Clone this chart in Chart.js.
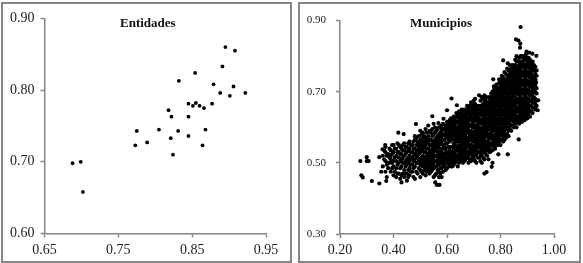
<!DOCTYPE html>
<html>
<head>
<meta charset="utf-8">
<script src="https://cdn.jsdelivr.net/npm/chart.js@4"></script>
<style>
  html, body { margin: 0; padding: 0; background: #fff; }
  body { width: 583px; height: 263px; position: relative; overflow: hidden; }
  .frame { position: absolute; top: 2px; height: 257px; border: 2px solid #858585; background: #fff; }
  .frame canvas { display: block; }
  .name { position: absolute; top: 11px; font: bold 13px "Liberation Serif", serif; color: #111; }
</style>
</head>
<body>
<div class="frame" style="left:1px;width:287px"><canvas id="entidades" width="287" height="257"></canvas><div class="name" style="left:117px">Entidades</div></div>
<div class="frame" style="left:298px;width:279px"><canvas id="municipios" width="279" height="257"></canvas><div class="name" style="left:110px">Municipios</div></div>
<script>
// Entidades: [x, y]
const entidadesPuntos = [
  [.688,.698],[.699,.700],[.702,.658],[.773,.723],[.775,.743],[.789,.727],[.805,.745],[.818,.772],
  [.821,.733],[.822,.763],[.824,.710],[.831,.743],[.832,.813],[.845,.781],[.845,.763],[.845,.736],
  [.851,.778],[.854,.824],[.855,.782],[.860,.778],[.864,.723],[.866,.775],[.868,.745],[.877,.781],
  [.879,.808],[.888,.796],[.891,.833],[.895,.860],[.901,.792],[.906,.805],[.908,.855],[.922,.796]
];

// Municipios: puntos sueltos
const municipiosSueltos = [
  [.276,.505],[.280,.465],[.285,.459],[.300,.516],[.300,.505],[.307,.505],[.319,.449],[.347,.442],
  [.347,.516],[.373,.449],[.354,.475],[.359,.538],[.369,.550],[.418,.585],[.438,.581],[.484,.609],
  [.545,.631],[.568,.612],[.587,.624],[.600,.648],[.617,.681],[.637,.662],[.556,.445],[.562,.438],
  [.572,.438],[.792,.524],[.827,.524],[.868,.566],[.740,.470],[.748,.474],[.767,.489],[.875,.882],
  [.858,.847],[.867,.844],[.874,.835],[.873,.824],[.897,.813],[.907,.810],[.919,.807],[.934,.801],
  [.810,.788],[.827,.780],[.773,.735],[.941,.676],[.939,.648],[.933,.727]
];

// Municipios: la nube, por columna de x
const municipiosX = [
  .36,.37,.38,.39,.40,.41,.42,.43,.44,.45,.46,.47,.48,.49,.50,.51,.52,.53,.54,.55,.56,.57,.58,.59,.60,
  .61,.62,.63,.64,.65,.66,.67,.68,.69,.70,.71,.72,.73,.74,.75,.76,.77,.78,.79,.80,.81,.82,.83,.84,.85,
  .86,.87,.88,.89,.90,.91,.92,.93
];
const municipiosY = [
  [.49,.52],
  [.475,.505,.53,.545],
  [.485,.50,.525],
  [.475,.51,.52,.535],
  [.465,.49,.505,.53,.55],
  [.46,.485,.505,.52,.54],
  [.47,.50,.515,.53,.55],
  [.445,.465,.49,.51,.525,.54],
  [.46,.48,.50,.52,.535,.555],
  [.45,.47,.495,.51,.53,.545],
  [.465,.485,.505,.52,.54,.56],
  [.475,.495,.515,.53,.55],
  [.455,.49,.51,.525,.54,.565,.575],
  [.47,.50,.515,.535,.55,.56],
  [.46,.48,.495,.51,.53,.545,.565,.59],
  [.47,.49,.505,.52,.54,.555,.57,.585],
  [.465,.485,.50,.515,.53,.55,.565,.595],
  [.48,.495,.51,.525,.54,.56,.575,.605],
  [.475,.49,.505,.52,.535,.55,.565,.585],
  [.46,.485,.50,.515,.53,.545,.56,.58,.61],
  [.47,.49,.505,.52,.54,.555,.57,.59],
  [.46,.475,.495,.51,.525,.55,.565,.58,.60],
  [.46,.485,.50,.515,.53,.56,.575,.59,.605],
  [.49,.505,.52,.545,.565,.58,.595],
  [.485,.50,.51,.525,.555,.57,.585,.60,.615],
  [.495,.51,.52,.535,.56,.575,.59,.605,.62],
  [.49,.505,.52,.53,.545,.57,.585,.60,.615],
  [.50,.515,.53,.55,.565,.58,.595,.61,.625],
  [.49,.51,.52,.535,.56,.575,.59,.60,.615,.63],
  [.505,.52,.53,.545,.56,.57,.585,.60,.61,.625,.64],
  [.50,.515,.53,.54,.555,.57,.58,.595,.61,.62,.635,.645],
  [.51,.525,.54,.55,.565,.58,.59,.605,.615,.63,.645],
  [.50,.52,.53,.545,.56,.57,.585,.60,.61,.625,.64,.655],
  [.505,.525,.54,.55,.565,.58,.59,.605,.62,.63,.645,.655,.67],
  [.51,.52,.535,.545,.56,.575,.585,.60,.615,.625,.64,.65,.66,.675],
  [.50,.525,.54,.555,.565,.58,.595,.605,.62,.63,.645,.655],
  [.515,.53,.55,.56,.575,.59,.60,.615,.625,.64,.65,.69],
  [.50,.52,.535,.545,.56,.57,.585,.595,.61,.62,.635,.645,.66,.685],
  [.51,.53,.54,.555,.57,.58,.595,.605,.62,.63,.645,.655,.67,.69],
  [.52,.535,.55,.56,.575,.59,.60,.615,.625,.64,.65,.665],
  [.53,.545,.555,.57,.58,.595,.605,.62,.63,.645,.655,.67,.68],
  [.50,.535,.55,.565,.575,.59,.60,.615,.625,.64,.65,.665,.675,.70],
  [.54,.555,.57,.58,.595,.605,.62,.63,.645,.655,.67,.68,.695,.705],
  [.55,.56,.575,.59,.60,.615,.625,.64,.65,.665,.675,.69,.70,.71],
  [.55,.565,.58,.595,.605,.62,.63,.645,.655,.67,.68,.695,.705,.72,.73],
  [.56,.575,.59,.60,.615,.625,.64,.65,.665,.675,.69,.70,.715,.725,.74],
  [.57,.58,.595,.605,.62,.63,.645,.655,.67,.68,.695,.705,.72,.73,.75],
  [.575,.59,.60,.615,.625,.64,.65,.665,.675,.69,.70,.715,.725,.74,.76],
  [.59,.605,.62,.63,.645,.655,.67,.68,.695,.705,.72,.73,.745,.755,.765],
  [.60,.615,.625,.64,.65,.665,.675,.69,.70,.715,.725,.74,.75,.765,.77],
  [.60,.62,.63,.645,.655,.67,.68,.695,.705,.72,.73,.745,.755,.77,.785,.80],
  [.61,.625,.64,.65,.665,.675,.69,.70,.715,.725,.74,.75,.765,.775,.795],
  [.615,.63,.645,.655,.67,.68,.695,.705,.72,.73,.745,.755,.77,.78,.80],
  [.62,.635,.65,.665,.675,.69,.70,.715,.725,.74,.75,.765,.775,.79,.80],
  [.625,.64,.655,.67,.68,.695,.705,.72,.73,.745,.755,.77,.78,.795],
  [.63,.645,.66,.675,.69,.70,.715,.725,.74,.75,.765,.775,.79],
  [.64,.655,.67,.68,.695,.71,.72,.735,.745,.76,.77,.785],
  [.65,.665,.68,.70,.72,.735,.75,.77]
];

// Municipios: columnas intermedias de la nube
const municipiosX2 = [
  .365,.375,.385,.395,.405,.415,.425,.435,.445,.455,.465,.475,.485,.495,.505,.515,.525,.535,.545,.555,
  .565,.575,.585,.595,.605,.615,.625,.635,.645,.655,.665,.675,.685,.695,.705,.715,.725,.735,.745,.755,
  .765,.775,.785,.795,.805,.815,.825,.835,.845,.855,.865,.875,.885,.895,.905,.915,.925,.935
];
const municipiosY2 = [
  [.51,.535],
  [.46,.495,.52],
  [.50,.515,.54],
  [.485,.50,.525,.55],
  [.475,.515,.54],
  [.47,.495,.53,.555],
  [.455,.485,.505,.525,.545],
  [.47,.50,.515,.535,.55],
  [.47,.49,.505,.525,.545],
  [.46,.48,.50,.515,.535,.555],
  [.475,.495,.51,.53,.55],
  [.46,.485,.505,.52,.54,.56],
  [.475,.50,.52,.53,.55,.57],
  [.485,.505,.525,.54,.555,.575],
  [.475,.50,.515,.535,.55,.56,.58],
  [.48,.495,.51,.53,.545,.56,.575],
  [.475,.49,.505,.52,.54,.555,.57,.585],
  [.47,.485,.50,.515,.53,.55,.565,.59],
  [.48,.495,.51,.525,.54,.555,.575,.595],
  [.465,.49,.505,.52,.535,.55,.565,.585,.60],
  [.48,.50,.515,.53,.545,.56,.575,.595],
  [.47,.485,.505,.52,.535,.54,.555,.57,.585,.60],
  [.475,.495,.51,.525,.54,.55,.565,.58,.595,.61],
  [.48,.50,.515,.53,.54,.555,.575,.59,.605],
  [.49,.505,.515,.53,.545,.565,.58,.595,.61],
  [.49,.50,.515,.53,.545,.565,.58,.595,.61,.625],
  [.495,.51,.525,.54,.555,.565,.575,.59,.605,.62,.63],
  [.505,.52,.535,.545,.56,.57,.585,.60,.615,.63,.64],
  [.50,.515,.525,.54,.55,.565,.58,.595,.605,.62,.635,.645],
  [.51,.525,.535,.55,.565,.575,.59,.605,.615,.63,.64,.65],
  [.505,.52,.535,.545,.56,.575,.585,.60,.615,.625,.64,.65],
  [.515,.53,.545,.555,.57,.585,.595,.61,.62,.635,.65,.66],
  [.51,.525,.535,.55,.565,.575,.59,.605,.62,.635,.645,.66],
  [.515,.53,.545,.56,.57,.585,.60,.61,.625,.635,.65,.665],
  [.505,.52,.53,.55,.56,.57,.59,.605,.62,.635,.65,.665,.68],
  [.515,.53,.545,.56,.57,.585,.60,.61,.625,.635,.65,.66],
  [.505,.525,.54,.555,.565,.58,.595,.61,.62,.635,.65,.66,.675],
  [.515,.53,.55,.565,.575,.59,.60,.615,.625,.64,.65,.665,.68],
  [.525,.545,.56,.575,.585,.60,.61,.625,.635,.65,.66,.675,.685],
  [.51,.54,.555,.565,.58,.595,.61,.62,.635,.645,.66,.67,.685],
  [.535,.555,.57,.585,.60,.61,.62,.635,.65,.66,.67,.685,.695],
  [.545,.56,.575,.59,.605,.615,.63,.64,.655,.665,.68,.69,.705,.715],
  [.55,.565,.58,.59,.61,.62,.635,.645,.66,.67,.685,.695,.71,.72],
  [.56,.57,.585,.60,.61,.62,.635,.65,.66,.67,.685,.70,.71,.725,.735],
  [.565,.58,.59,.61,.62,.635,.645,.66,.67,.685,.695,.71,.72,.735,.745],
  [.565,.585,.60,.61,.62,.635,.65,.66,.67,.685,.70,.71,.72,.735,.755],
  [.58,.595,.61,.62,.635,.645,.66,.67,.685,.695,.71,.72,.735,.745,.765],
  [.595,.61,.625,.635,.65,.66,.675,.685,.70,.71,.725,.735,.75,.76,.775],
  [.605,.62,.635,.645,.66,.67,.685,.695,.71,.72,.735,.745,.76,.775],
  [.61,.625,.635,.65,.66,.675,.685,.70,.71,.725,.735,.75,.76,.775,.79],
  [.615,.63,.645,.655,.67,.68,.695,.71,.72,.735,.745,.76,.77,.785],
  [.62,.635,.65,.66,.675,.685,.70,.71,.725,.735,.75,.76,.775,.785,.80],
  [.625,.64,.655,.665,.68,.695,.705,.72,.73,.745,.755,.77,.785,.795],
  [.63,.645,.66,.67,.685,.70,.71,.725,.735,.75,.76,.775,.79,.805],
  [.635,.65,.665,.68,.695,.705,.72,.73,.745,.755,.77,.785,.795],
  [.645,.66,.675,.69,.70,.715,.73,.74,.755,.765,.78],
  [.655,.67,.685,.70,.71,.725,.74,.76,.775],
  [.66,.675,.695,.71,.745,.76]
];

const municipiosPuntos = municipiosSueltos.slice();
municipiosX.forEach(function (x, i) {
  municipiosY[i].forEach(function (y) { municipiosPuntos.push([x, y]); });
});
municipiosX2.forEach(function (x, i) {
  municipiosY2[i].forEach(function (y) { municipiosPuntos.push([x, y]); });
});

const entidadesTicksX = [0.65, 0.75, 0.85, 0.95];
const entidadesTicksY = [0.60, 0.70, 0.80, 0.90];
const municipiosTicksX = [0.20, 0.40, 0.60, 0.80, 1.00];
const municipiosTicksY = [0.30, 0.50, 0.70, 0.90];

const gris = '#858585';
const texto = '#222';

function ejeFijo(ticks, fontSize, padding, ajuste) {
  return {
    type: 'linear',
    min: ticks[0],
    max: ticks[ticks.length - 1],
    afterBuildTicks: function (axis) {
      axis.ticks = ticks.map(function (v) { return { value: v }; });
    },
    ticks: {
      color: texto,
      padding: padding,
      maxRotation: 0,
      autoSkip: false,
      font: { family: '"Liberation Serif", serif', size: fontSize },
      callback: function (v) { return Number(v).toFixed(2); }
    },
    grid: { drawOnChartArea: false, drawTicks: true, tickLength: 4, tickColor: gris, tickWidth: 1.5 },
    border: { color: gris, width: 1.5 },
    afterFit: ajuste
  };
}

function crearGrafico(id, puntos, ticksX, ticksY, o) {
  new Chart(document.getElementById(id).getContext('2d'), {
    type: 'scatter',
    data: {
      datasets: [{
        data: puntos.map(function (p) { return { x: p[0], y: p[1] }; }),
        backgroundColor: '#000',
        borderWidth: 0,
        pointRadius: o.radio
      }]
    },
    options: {
      responsive: false,
      animation: false,
      layout: { padding: { top: o.arriba, right: o.derecha, left: 0, bottom: 0 } },
      plugins: { legend: { display: false }, tooltip: { enabled: false }, title: { display: false } },
      scales: {
        x: ejeFijo(ticksX, 14, 4, function (s) { s.height = o.altoX; }),
        y: ejeFijo(ticksY, o.fuenteY, o.padY, function (s) { s.width = o.anchoY; })
      }
    }
  });
}

crearGrafico('entidades', entidadesPuntos, entidadesTicksX, entidadesTicksY,
  { radio: 1.9, arriba: 14, derecha: 24, altoX: 27.5, anchoY: 41.5, fuenteY: 14, padY: 6 });
crearGrafico('municipios', municipiosPuntos, municipiosTicksX, municipiosTicksY,
  { radio: 2.1, arriba: 14.5, derecha: 25, altoX: 27, anchoY: 40, fuenteY: 11, padY: 10 });
</script>
</body>
</html>
